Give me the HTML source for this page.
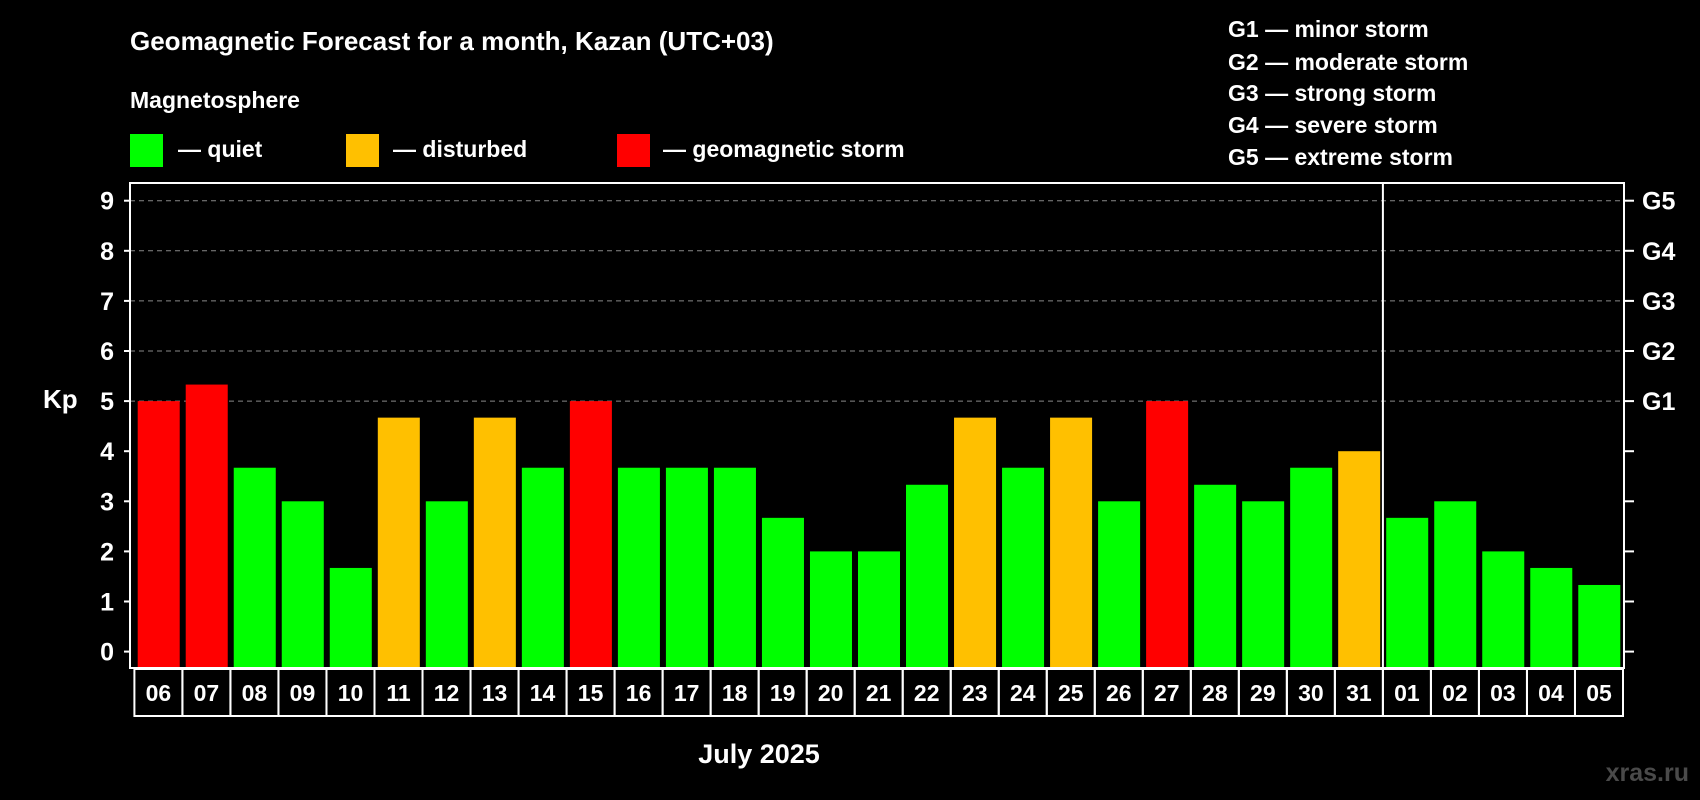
<!DOCTYPE html>
<html><head><meta charset="utf-8"><style>
html,body{margin:0;padding:0;background:#000;width:1700px;height:800px;overflow:hidden}
svg text{font-family:"Liberation Sans",Arial,sans-serif;font-weight:bold;fill:#fff}
</style></head><body>
<svg id="chart" width="1700" height="800" xmlns="http://www.w3.org/2000/svg">
<text x="130" y="50" font-size="26">Geomagnetic Forecast for a month, Kazan (UTC+03)</text>
<text x="130" y="108" font-size="23">Magnetosphere</text>
<rect x="130" y="134" width="33" height="33" fill="#00ff00"/>
<text x="178" y="157" font-size="23">— quiet</text>
<rect x="346" y="134" width="33" height="33" fill="#ffc000"/>
<text x="393" y="157" font-size="23">— disturbed</text>
<rect x="617" y="134" width="33" height="33" fill="#ff0000"/>
<text x="663" y="157" font-size="23">— geomagnetic storm</text>
<g font-size="23">
<text x="1228" y="37">G1 — minor storm</text>
<text x="1228" y="70">G2 — moderate storm</text>
<text x="1228" y="101">G3 — strong storm</text>
<text x="1228" y="133">G4 — severe storm</text>
<text x="1228" y="165">G5 — extreme storm</text>
</g>
<text x="43" y="408" font-size="26">Kp</text>
<text x="759" y="763" font-size="27" text-anchor="middle">July 2025</text>
<text x="1689" y="781" font-size="25" text-anchor="end" style="fill:#4a4a4a">xras.ru</text>
<g id="grid"></g><g id="bars"></g><g id="axes"></g>
</svg>
<script>
const days=["06","07","08","09","10","11","12","13","14","15","16","17","18","19","20","21","22","23","24","25","26","27","28","29","30","31","01","02","03","04","05"];
const kp=[5,5.33,3.67,3,1.67,4.67,3,4.67,3.67,5,3.67,3.67,3.67,2.67,2,2,3.33,4.67,3.67,4.67,3,5,3.33,3,3.67,4,2.67,3,2,1.67,1.33];
const yTicks=[0,1,2,3,4,5,6,7,8,9];
const gLabels=["G1","G2","G3","G4","G5"];
const gLevels=[5,6,7,8,9];
const monthBreak=26;
const NS="http://www.w3.org/2000/svg";
const L=130,R=1624,T=183,B=668,x0=134.4,slot=(1623-134.4)/31;
const y=v=>651.6-v*50.1;
const x=i=>x0+i*slot;
function mk(tag,attrs,parent,txt){const e=document.createElementNS(NS,tag);for(const k in attrs)e.setAttribute(k,attrs[k]);if(txt!==undefined)e.textContent=txt;parent.appendChild(e);return e;}
const grid=document.getElementById('grid'),bars=document.getElementById('bars'),axes=document.getElementById('axes');
gLevels.forEach(v=>{const l=mk('line',{x1:L,x2:R,y1:y(v),y2:y(v),stroke:'#888','stroke-dasharray':'5,4','stroke-width':1},grid);

});
kp.forEach((v,i)=>{const c=v>=5?'#ff0000':(v>=4?'#ffc000':'#00ff00');
const r=mk('rect',{x:x(i)+3.3,y:y(v),width:slot-6,height:y(0)+16.4-y(v),fill:c},bars);

});
const box=mk('rect',{x:L,y:T,width:R-L,height:B-T,fill:'none',stroke:'#fff','stroke-width':2},axes);


const sep=mk('line',{x1:x(monthBreak),x2:x(monthBreak),y1:T,y2:B,stroke:'#fff','stroke-width':2},axes);


yTicks.forEach(v=>{mk('line',{x1:L-6,x2:L,y1:y(v),y2:y(v),stroke:'#fff','stroke-width':2},axes);
mk('line',{x1:R,x2:R+10,y1:y(v),y2:y(v),stroke:'#fff','stroke-width':2},axes);
const t=mk('text',{x:114,y:y(v)+9,'font-size':25,'text-anchor':'end'},axes,String(v));

});
gLevels.forEach((v,i)=>{const t=mk('text',{x:1642,y:y(v)+9,'font-size':25},axes,gLabels[i]);

});
days.forEach((d,i)=>{const r=mk('rect',{x:x(i),y:669,width:slot,height:47,fill:'none',stroke:'#fff','stroke-width':2},axes);


const t=mk('text',{x:x(i)+slot/2,y:701,'font-size':23,'text-anchor':'middle'},axes,d);

});
</script>
</body></html>
